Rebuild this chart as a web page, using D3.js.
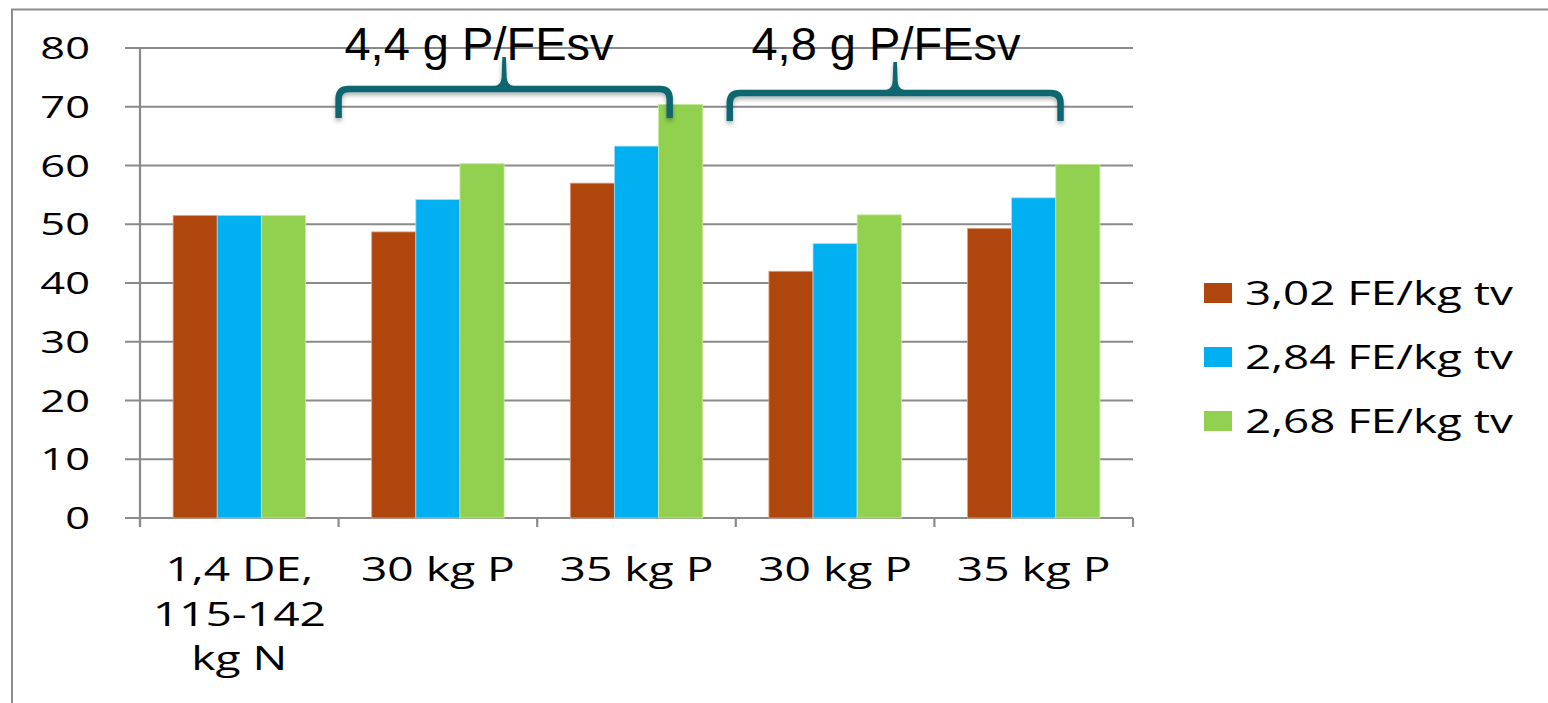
<!DOCTYPE html>
<html>
<head>
<meta charset="utf-8">
<script src="https://cdn.jsdelivr.net/npm/d3@7"></script>
<style>
  html, body { margin: 0; padding: 0; background: #fff; overflow: hidden; }
  svg { display: block; }
</style>
</head>
<body>
<svg id="chart" width="1548" height="703"></svg>
<script>
// Categories (multi-line labels) and the three feed-level series
const categories = [["1,4 DE,", "115-142", "kg N"], ["30 kg P"], ["35 kg P"], ["30 kg P"], ["35 kg P"]];
const seriesNames = ["3,02 FE/kg tv", "2,84 FE/kg tv", "2,68 FE/kg tv"];
const fe302 = [51.5, 48.7, 57.0, 42.0, 49.3];
const fe284 = [51.5, 54.2, 63.3, 46.7, 54.5];
const fe268 = [51.5, 60.3, 70.4, 51.6, 60.2];
const yTicks = [0, 10, 20, 30, 40, 50, 60, 70, 80];
// Group annotations: label and the first/last category they span
const groupLabels = ["4,4 g P/FEsv", "4,8 g P/FEsv"];
const groupSpans = [[1, 2], [3, 4]];

const series = [fe302, fe284, fe268];
const colors = ["#ae460e", "#00b0f0", "#92d050"];
const edge = ["#e8a07a", "#9fdcf6", "#c8ea9e"];

const svg = d3.select("#chart");
const W = 1548, H = 703;
const SX = 1.4;               // horizontal stretch of the body font
const bodyFont = "'Open Sans', sans-serif";

const plot = { left: 140, right: 1133, top: 48, bottom: 518 };

const x = d3.scaleBand().domain(d3.range(categories.length))
  .range([plot.left, plot.right]).paddingInner(0).paddingOuter(0);
const y = d3.scaleLinear().domain([0, 80]).range([plot.bottom, plot.top]);

// Outer frame of the slide object
svg.append("path")
  .attr("d", `M12,${H + 2} L12,9.5 L${W + 2},9.5`)
  .attr("fill", "none").attr("stroke", "#8d8d8d").attr("stroke-width", 2);

// Gridlines with left tick stubs
svg.append("g").selectAll("line").data(yTicks).join("line")
  .attr("x1", plot.left - 15).attr("x2", plot.right)
  .attr("y1", d => y(d)).attr("y2", d => y(d))
  .attr("stroke", "#8a8a8a").attr("stroke-width", 2.2);

// Y axis line and category tick marks
svg.append("line").attr("x1", plot.left).attr("x2", plot.left)
  .attr("y1", y(80)).attr("y2", plot.bottom + 9)
  .attr("stroke", "#8a8a8a").attr("stroke-width", 2.2);
const bounds = d3.range(categories.length + 1).map(i => plot.left + i * x.bandwidth());
svg.append("g").selectAll("line").data(bounds).join("line")
  .attr("x1", d => d).attr("x2", d => d)
  .attr("y1", plot.bottom).attr("y2", plot.bottom + 9)
  .attr("stroke", "#8a8a8a").attr("stroke-width", 2.2);

// Bars: bar width = band / 4.5 (gap of 150%)
const bw = x.bandwidth() / 4.5;
const gap = (x.bandwidth() - 3 * bw) / 2;
series.forEach((vals, si) => {
  svg.append("g").selectAll("rect").data(vals).join("rect")
    .attr("x", (d, i) => x(i) + gap + si * bw)
    .attr("y", d => y(d))
    .attr("width", bw)
    .attr("height", d => y(0) - y(d))
    .attr("fill", colors[si])
    .attr("stroke", edge[si]).attr("stroke-width", 0.8);
});

// Y tick labels
svg.append("g").selectAll("text").data(yTicks).join("text")
  .attr("transform", d => `translate(90,${y(d) + 11}) scale(${SX},1)`)
  .attr("text-anchor", "end")
  .attr("font-family", bodyFont).attr("font-size", 31).attr("fill", "#000")
  .text(d => d);

// Category labels (multi-line)
const catG = svg.append("g").selectAll("g").data(categories).join("g")
  .attr("transform", (d, i) => `translate(${x(i) + x.bandwidth() / 2},581)`);
catG.each(function (lines) {
  d3.select(this).selectAll("text").data(lines).join("text")
    .attr("transform", (d, j) => `translate(0,${j * 44.5}) scale(${SX},1)`)
    .attr("text-anchor", "middle")
    .attr("font-family", bodyFont).attr("font-size", 33).attr("fill", "#000")
    .text(d => d);
});

// Legend
const leg = svg.append("g").selectAll("g").data(seriesNames).join("g")
  .attr("transform", (d, i) => `translate(1204,${293 + i * 64})`);
leg.append("rect").attr("x", 0).attr("y", -10).attr("width", 28).attr("height", 20)
  .attr("fill", (d, i) => colors[i]);
leg.append("text")
  .attr("transform", `translate(41,11.5) scale(1.43,1)`)
  .attr("font-family", bodyFont).attr("font-size", 32).attr("fill", "#000")
  .text(d => d);

// Curly brackets over the category groups
const defs = svg.append("defs");
const f = defs.append("filter").attr("id", "shadow")
  .attr("x", "-10%").attr("y", "-30%").attr("width", "120%").attr("height", "180%");
f.append("feDropShadow").attr("dx", 0).attr("dy", 3).attr("stdDeviation", 2)
  .attr("flood-color", "#000").attr("flood-opacity", 0.3);

const bracketGeom = [
  { x1: x(1), x2: x(2) + 0.667 * x.bandwidth(), yh: 89, yb: 118, yt: 57, lx: 479 },
  { x1: x(3) - 6, x2: x(4) + 0.635 * x.bandwidth(), yh: 93, yb: 121, yt: 62, lx: 886 }
];
const teal = "#0c6670";
bracketGeom.forEach((b, k) => {
  const xm = (b.x1 + b.x2) / 2, r = 10;
  const g = svg.append("g").attr("filter", "url(#shadow)");
  g.append("path")
    .attr("d", `M${b.x1},${b.yb} L${b.x1},${b.yh + r} Q${b.x1},${b.yh} ${b.x1 + r},${b.yh}
                L${b.x2 - r},${b.yh} Q${b.x2},${b.yh} ${b.x2},${b.yh + r} L${b.x2},${b.yb}`)
    .attr("fill", "none").attr("stroke", teal).attr("stroke-width", 6.5)
    .attr("stroke-linejoin", "round");
  g.append("path")
    .attr("d", `M${xm - 9},${b.yh - 3} Q${xm - 3},${b.yh - 4} ${xm - 2.5},${b.yh - 12}
                L${xm - 1.8},${b.yt} L${xm + 1.8},${b.yt} L${xm + 2.5},${b.yh - 12}
                Q${xm + 3},${b.yh - 4} ${xm + 9},${b.yh - 3} Z`)
    .attr("fill", teal);
  svg.append("text")
    .attr("transform", `translate(${b.lx},60) scale(1.0,1)`)
    .attr("text-anchor", "middle")
    .attr("font-family", "'Liberation Sans', Arial, sans-serif")
    .attr("font-size", 47).attr("fill", "#000")
    .text(groupLabels[k]);
});
</script>
</body>
</html>
